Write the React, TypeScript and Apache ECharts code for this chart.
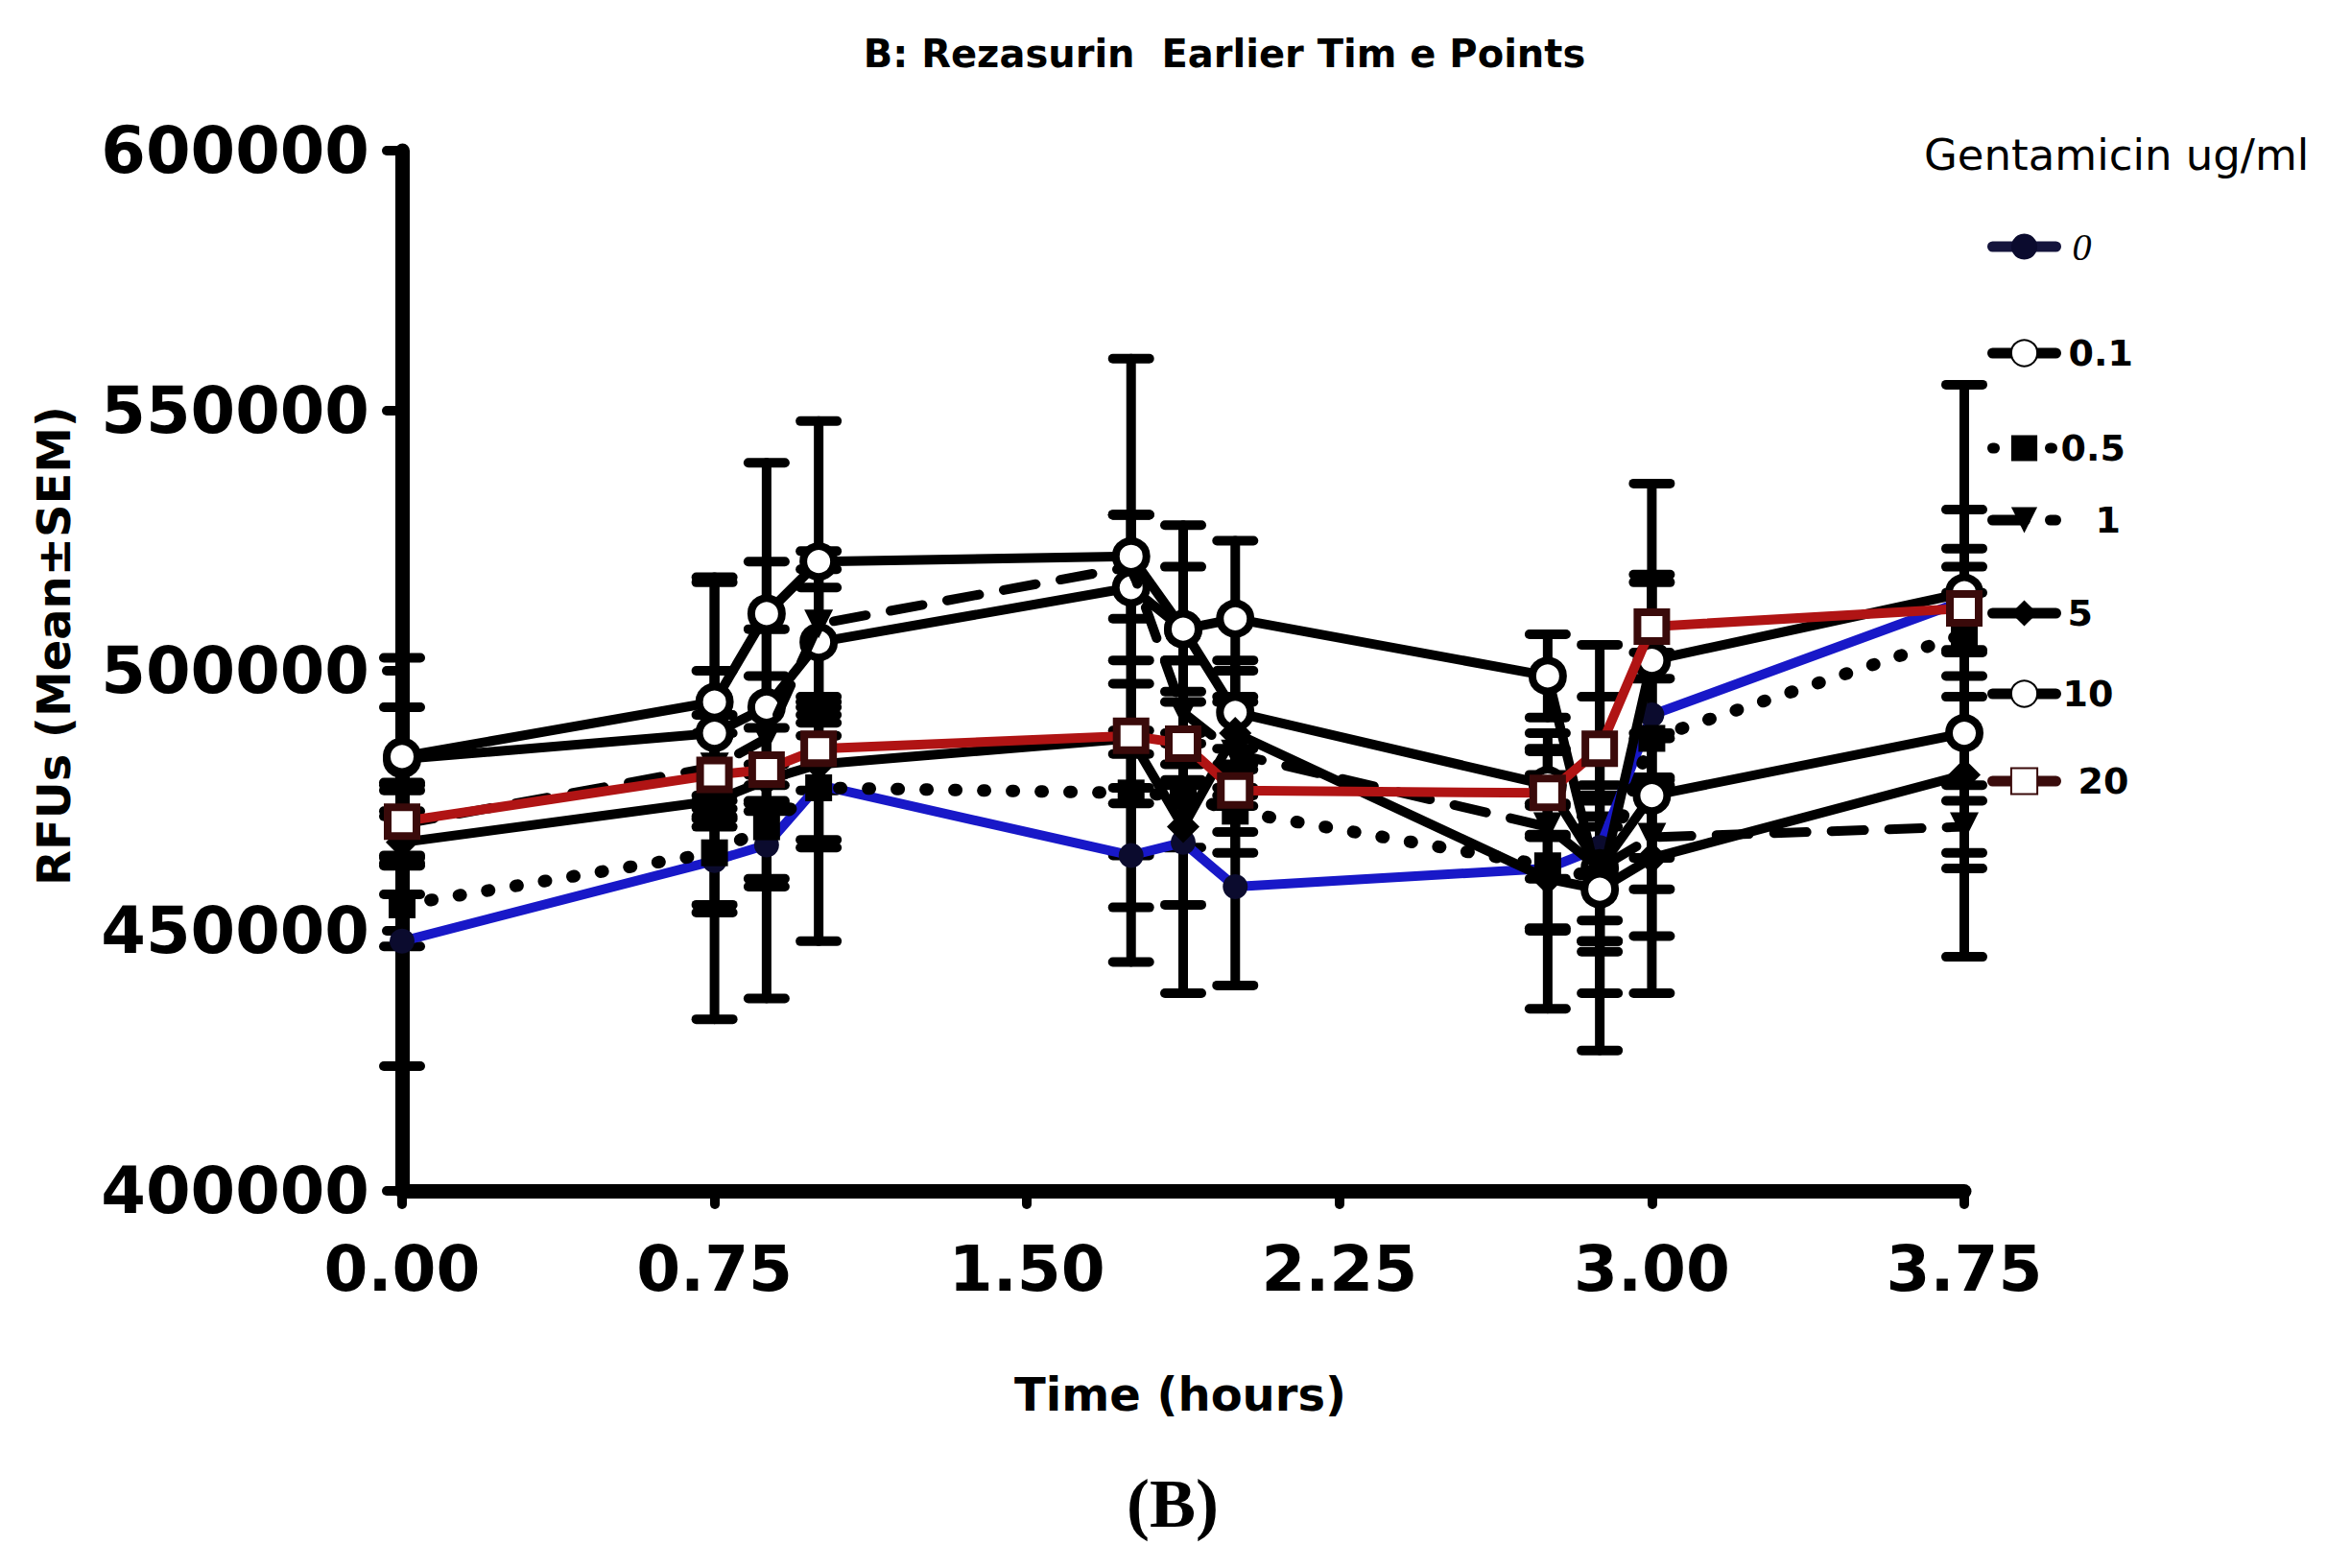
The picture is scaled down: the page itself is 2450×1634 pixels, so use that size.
import React, { useEffect, useRef } from "react";
import * as echarts from "echarts";

// ---- data (hours, RFU) ----
const times = [0, 0.75, 0.875, 1.0, 1.75, 1.875, 2.0, 2.75, 2.875, 3.0, 3.75];

const seriesNames = ["0", "0.1", "0.5", "1", "5", "10", "20"];

const mean0 = [448000, 463500, 466500, 478000, 464500, 467000, 458500, 462000, 466000, 491500, 513500];
const mean0_1 = [483000, 488000, 493000, 505500, 516000, 508000, 492000, 478000, 462000, 476000, 488000];
const mean0_5 = [455000, 465000, 470000, 477500, 476500, 476000, 473000, 462500, 460000, 487000, 507000];
const mean1 = [470500, 481500, 487000, 509000, 520000, 492000, 484000, 470000, 462000, 468000, 470000];
const mean5 = [467000, 475000, 479000, 482000, 487000, 470000, 488000, 460000, 458000, 464000, 480000];
const mean10 = [483500, 494000, 511000, 521000, 522000, 508000, 510000, 499000, 458000, 502000, 515000];
const mean20 = [471000, 480000, 481000, 485000, 487500, 486000, 477000, 476500, 485000, 508500, 512000];

const sem0 = [24000, 10000, 8000, 12000, 10000, 12000, 19000, 12000, 39000, 12000, 10000];
const sem0_1 = [10000, 12000, 15000, 14000, 14000, 12000, 10000, 10000, 14000, 12000, 43000];
const sem0_5 = [8000, 10000, 10000, 10000, 12000, 10000, 8000, 12000, 12000, 49000, 8000];
const sem1 = [8000, 10000, 12000, 14000, 10000, 10000, 10000, 10000, 10000, 10000, 8000];
const sem5 = [10000, 42000, 42000, 34000, 43000, 32000, 12000, 25000, 20000, 15000, 15000];
const sem10 = [19000, 24000, 29000, 27000, 38000, 20000, 15000, 8000, 12000, 15000, 40000];
const sem20 = [7000, 8000, 8000, 8000, 10000, 8000, 8000, 8000, 10000, 10000, 8000];

const means = [mean0, mean0_1, mean0_5, mean1, mean5, mean10, mean20];
const sems = [sem0, sem0_1, sem0_5, sem1, sem5, sem10, sem20];

const xTicks = [0, 0.75, 1.5, 2.25, 3.0, 3.75];
const yMin = 400000;
const yMax = 600000;
const yStep = 50000;

// ---- styles ----
const lineColors = ["#1818c8", "#000", "#000", "#000", "#000", "#000", "#b01414"];
const legendLineColors = ["#14143c", "#000", "#000", "#000", "#000", "#000", "#3a0c0c"];
const lineTypes: any[] = ["solid", "solid", [2, 28], [34, 26], "solid", "solid", "solid"];
const symbols = ["circle", "circle", "rect", "triangle", "diamond", "circle", "rect"];
const symbolSizes = [26, 32, 28, 30, 34, 32, 30];
const symbolRotates = [0, 0, 0, 180, 0, 0, 0];
const symbolFills = ["#0b0b2e", "#fff", "#000", "#000", "#000", "#fff", "#fff"];
const symbolBorders = ["#0b0b2e", "#000", "#000", "#000", "#000", "#000", "#3a0a0a"];
const symbolBorderW = [0, 8, 0, 0, 0, 8, 8];

const legendCenters = [249, 361, 460, 535, 632, 716, 807];
const legendTextPad = [12, 8, 0, 36, 7, 2, 18];

const FONT = "DejaVu Sans";

export default function App() {
  const ref = useRef<HTMLDivElement>(null);

  useEffect(() => {
    if (!ref.current) return;
    const chart = echarts.init(ref.current, null, { renderer: "svg" });

    const errData: any[] = [];
    means.forEach((m, si) => {
      m.forEach((v, i) => {
        errData.push([times[i], v - sems[si][i], v + sems[si][i]]);
      });
    });

    const lineSeries = seriesNames.map((name, si) => ({
      name,
      type: "line",
      data: times.map((t, i) => [t, means[si][i]]),
      symbol: symbols[si],
      symbolSize: symbolSizes[si],
      symbolRotate: symbolRotates[si],
      showAllSymbol: true,
      z: 3 + si,
      lineStyle: {
        color: lineColors[si],
        width: si === 2 ? 13 : 10,
        type: lineTypes[si],
        cap: "round",
      },
      itemStyle: {
        color: symbolFills[si],
        borderColor: symbolBorders[si],
        borderWidth: symbolBorderW[si],
      },
      emphasis: { disabled: true },
    }));

    const legends = seriesNames.map((name, si) => ({
      data: [name],
      left: 2066,
      top: legendCenters[si] - 17,
      itemWidth: 66,
      itemHeight: 34,
      selectedMode: false,
      lineStyle: { width: 11, color: legendLineColors[si] },
      itemStyle: si === 6 ? { borderColor: "#3a0a0a" } : {},
      textStyle:
        si === 0
          ? {
              fontFamily: "Liberation Serif",
              fontStyle: "italic",
              fontSize: 40,
              color: "#000",
              padding: [0, 0, 0, legendTextPad[si]],
              lineHeight: 34,
            }
          : {
              fontFamily: FONT,
              fontWeight: "bold",
              fontSize: 38,
              color: "#000",
              padding: [0, 0, 0, legendTextPad[si]],
              lineHeight: 34,
            },
    }));

    chart.setOption({
      animation: false,
      backgroundColor: "#fff",
      grid: { left: 419, top: 157, width: 1628, height: 1084, containLabel: false },
      legend: legends,
      xAxis: {
        type: "value",
        min: 0,
        max: 3.75,
        interval: 0.75,
        axisLine: { show: true, lineStyle: { color: "#000", width: 15, cap: "round" } },
        axisTick: { show: true, length: 14, inside: false, lineStyle: { color: "#000", width: 10, cap: "round" } },
        axisLabel: {
          margin: 48,
          fontFamily: FONT,
          fontWeight: "bold",
          fontSize: 66,
          color: "#000",
          formatter: (v: number) => v.toFixed(2),
          customValues: xTicks,
        },
        splitLine: { show: false },
      },
      yAxis: {
        type: "value",
        min: yMin,
        max: yMax,
        interval: yStep,
        axisLine: { show: true, lineStyle: { color: "#000", width: 15, cap: "round" } },
        axisTick: { show: true, length: 16, lineStyle: { color: "#000", width: 10, cap: "round" } },
        axisLabel: {
          margin: 34,
          fontFamily: FONT,
          fontWeight: "bold",
          fontSize: 67,
          color: "#000",
          formatter: (v: number) => String(v),
        },
        splitLine: { show: false },
      },
      graphic: [
        {
          type: "text",
          x: 1276,
          y: 56,
          style: {
            text: "B: Rezasurin  Earlier Tim e Points",
            fontFamily: FONT,
            fontWeight: "bold",
            fontSize: 40,
            fill: "#000",
            textAlign: "center",
            textVerticalAlign: "middle",
          },
        },
        {
          type: "text",
          x: 56,
          y: 673,
          rotation: Math.PI / 2,
          style: {
            text: "RFUs (Mean±SEM)",
            fontFamily: FONT,
            fontWeight: "bold",
            fontSize: 48,
            fill: "#000",
            textAlign: "center",
            textVerticalAlign: "middle",
          },
        },
        {
          type: "text",
          x: 1230,
          y: 1453,
          style: {
            text: "Time (hours)",
            fontFamily: FONT,
            fontWeight: "bold",
            fontSize: 48,
            fill: "#000",
            textAlign: "center",
            textVerticalAlign: "middle",
          },
        },
        {
          type: "text",
          x: 1222,
          y: 1567,
          style: {
            text: "(B)",
            fontFamily: "Liberation Serif",
            fontWeight: "bold",
            fontSize: 72,
            fill: "#000",
            textAlign: "center",
            textVerticalAlign: "middle",
          },
        },
        {
          type: "text",
          left: 2005,
          top: 139,
          style: {
            text: "Gentamicin ug/ml",
            fontFamily: FONT,
            fontSize: 45,
            fill: "#000",
          },
        },
      ],
      series: [
        {
          name: "err",
          type: "custom",
          z: 2,
          data: errData,
          encode: { x: 0, y: [1, 2] },
          renderItem: (params: any, api: any) => {
            const x = api.value(0);
            const lo = api.value(1);
            const hi = api.value(2);
            const p1 = api.coord([x, hi]);
            const p2 = api.coord([x, lo]);
            const cw = 19;
            const st = { stroke: "#000", lineWidth: 10, lineCap: "round" };
            return {
              type: "group",
              children: [
                { type: "line", shape: { x1: p1[0], y1: p1[1], x2: p2[0], y2: p2[1] }, style: st },
                { type: "line", shape: { x1: p1[0] - cw, y1: p1[1], x2: p1[0] + cw, y2: p1[1] }, style: st },
                { type: "line", shape: { x1: p2[0] - cw, y1: p2[1], x2: p2[0] + cw, y2: p2[1] }, style: st },
              ],
            };
          },
        },
        ...lineSeries,
      ],
    });

    return () => chart.dispose();
  }, []);

  return (
    <div
      ref={ref}
      style={{ position: "fixed", left: 0, top: 0, width: 2450, height: 1634, background: "#fff" }}
    />
  );
}
